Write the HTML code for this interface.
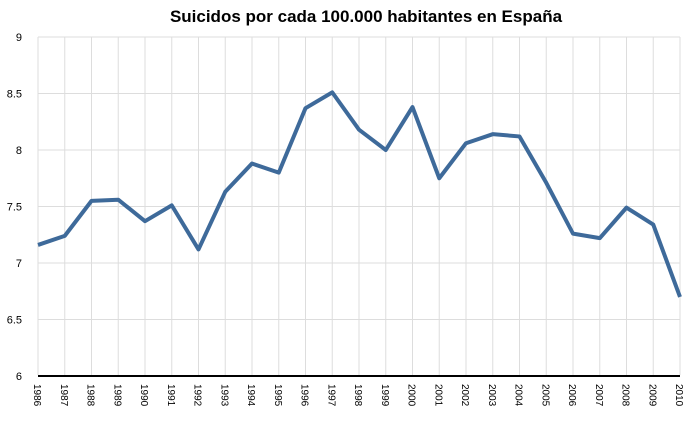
<!DOCTYPE html>
<html><head><meta charset="utf-8"><style>
body{margin:0;background:#fff;width:696px;height:416px;overflow:hidden}
svg text{font-family:"Liberation Sans",sans-serif}
</style></head><body>
<svg id="chart" width="696" height="416">
<text x="366" y="22" text-anchor="middle" font-size="17" font-weight="bold" fill="#000">Suicidos por cada 100.000 habitantes en España</text>
<g id="grid"></g><g id="yt"></g><g id="xt"></g><g id="ln"></g>
</svg>
<script>
const years=[1986,1987,1988,1989,1990,1991,1992,1993,1994,1995,1996,1997,1998,1999,2000,2001,2002,2003,2004,2005,2006,2007,2008,2009,2010];
const values=[7.16,7.24,7.55,7.56,7.37,7.51,7.12,7.63,7.88,7.80,8.37,8.51,8.18,8.00,8.38,7.75,8.06,8.14,8.12,7.71,7.26,7.22,7.49,7.34,6.70];
const yTicks=[6,6.5,7,7.5,8,8.5,9];
const NS="http://www.w3.org/2000/svg";
const x0=38,x1=680,yTop=37,yBot=376,ymin=6,ymax=9;
const X=i=>x0+(x1-x0)*i/(years.length-1);
const Y=v=>yBot-(v-ymin)/(ymax-ymin)*(yBot-yTop);
function mk(t,a,p){const e=document.createElementNS(NS,t);for(const k in a)e.setAttribute(k,a[k]);p.appendChild(e);return e;}
const g=document.getElementById('grid'),yt=document.getElementById('yt'),xt=document.getElementById('xt'),ln=document.getElementById('ln');
yTicks.forEach(v=>{
 const l=mk('line',{x1:x0,x2:x1,y1:Y(v),y2:Y(v),stroke:v===ymin?'#000':'#ddd','stroke-width':v===ymin?2:1},g);
 
 
 const t=mk('text',{x:22,y:Y(v)+4,'text-anchor':'end','font-size':11,fill:'#000'},yt);
 t.textContent=String(v);
 
 
});
years.forEach((yr,i)=>{
 const l=mk('line',{x1:X(i),x2:X(i),y1:yTop,y2:yBot-1,stroke:'#ddd','stroke-width':1},g);
 
 
 const t=mk('text',{x:0,y:0,'font-size':10,fill:'#000',transform:`translate(${X(i)-4},384) rotate(90)`},xt);
 t.textContent=String(yr);
 
 
});
const p=mk('polyline',{points:values.map((v,i)=>X(i)+','+Y(v)).join(' '),fill:'none',stroke:'#3e6a9a','stroke-width':4,'stroke-linejoin':'round'},ln);


</script>
</body></html>
